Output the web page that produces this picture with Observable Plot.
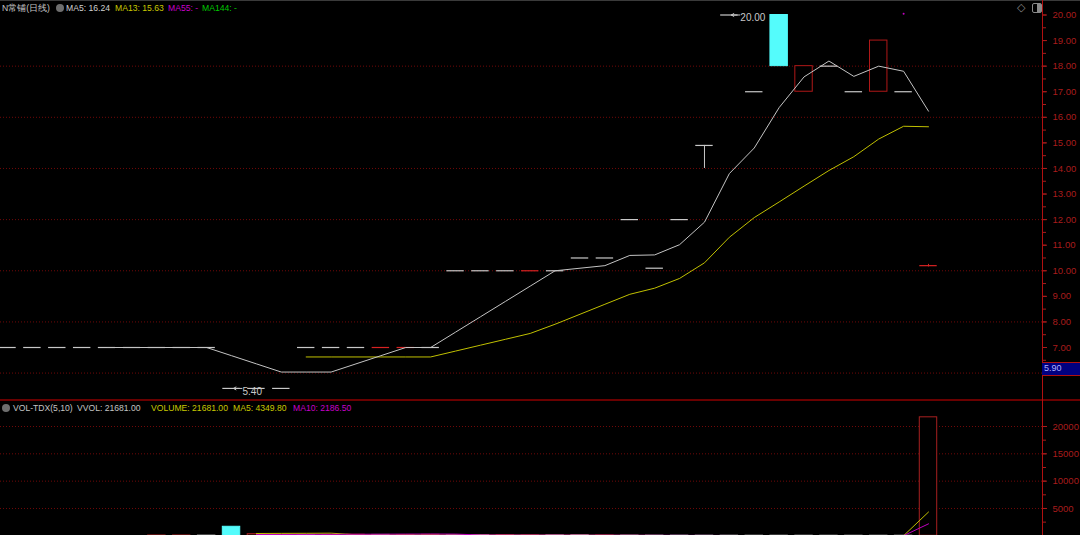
<!DOCTYPE html>
<html><head><meta charset="utf-8">
<script src="https://cdn.jsdelivr.net/npm/d3@7"></script>
<script src="https://cdn.jsdelivr.net/npm/@observablehq/plot@0.6"></script>
<style>
html,body{margin:0;padding:0;background:#000;}
body{width:1080px;height:535px;overflow:hidden;position:relative;font-family:"Liberation Sans",Arial,sans-serif;}
#main{position:absolute;left:0;top:0;}
#vol{position:absolute;left:0;top:400px;}
.h{position:absolute;font-size:8.6px;white-space:pre;line-height:10px;}
.ico{position:absolute;width:8px;height:8px;border-radius:50%;background:#6e6e6e;}
</style></head><body>
<div id="main"></div><div id="vol"></div>
<div style="position:absolute;left:0;top:0;width:1080px;height:1px;background:#3a3a3a"></div>
<div style="position:absolute;left:0;top:399px;width:1080px;height:2px;background:#6a0000"></div>
<div style="position:absolute;left:1042px;top:0;width:1px;height:535px;background:#b01010"></div>
<div class="h" style="left:2px;top:3px;color:#c4c4c4">N常铺(日线)</div>
<div class="ico" style="left:56px;top:4px"></div>
<div class="h" style="left:66px;top:3px;color:#d0d0d0">MA5: 16.24</div>
<div class="h" style="left:115px;top:3px;color:#c8c800">MA13: 15.63</div>
<div class="h" style="left:168px;top:3px;color:#c800c8">MA55: -</div>
<div class="h" style="left:202px;top:3px;color:#00c800">MA144: -</div>
<div class="ico" style="left:2px;top:404px"></div>
<div class="h" style="left:13px;top:403px;color:#c4c4c4">VOL-TDX(5,10)</div>
<div class="h" style="left:77px;top:403px;color:#c4c4c4">VVOL: 21681.00</div>
<div class="h" style="left:151px;top:403px;color:#c8c800">VOLUME: 21681.00</div>
<div class="h" style="left:233px;top:403px;color:#c8c800">MA5: 4349.80</div>
<div class="h" style="left:293px;top:403px;color:#c800c8">MA10: 2186.50</div>
<div class="h" style="left:1017px;top:2px;color:#8a8a8a;font-size:11px">◇</div>
<div style="position:absolute;left:1032px;top:3px;width:8px;height:8px;border:1px solid #8a8a8a;border-radius:2px;background:linear-gradient(90deg,#000 50%,#8a8a8a 50%)"></div>
<div style="position:absolute;left:1042px;top:362px;width:38px;height:12px;background:#000080;border-top:1px solid #b01010;border-bottom:1px solid #b01010;"></div>
<div class="h" style="left:1044px;top:363px;color:#b0b0ff;font-size:9px">5.90</div>
<script>
// ---------- data ----------
const idx   = [0,1,2,3,4,5,6,7,8,9,10,11,12,13,14,15,16,17,18,19,20,21,22,23,24,25,26,27,28,29,30,31,32,33,34,35,36,37];
const open  = [7,7,7,7,7,7,7,7,7,5.4,5.4,5.4,7,7,7,7,7,7,10,10,10,10,10,10.5,10.5,12,10.1,12,14.9,20,17,20,17,18,17,17,17,10.2];
const high  = [7,7,7,7,7,7,7,7,7,5.4,5.4,5.4,7,7,7,7,7,7,10,10,10,10,10,10.5,10.5,12,10.1,12,14.9,20,17,20,18,18,17,19,17,10.25];
const low   = [7,7,7,7,7,7,7,7,7,5.4,5.4,5.4,7,7,7,7,7,7,10,10,10,10,10,10.5,10.5,12,10.1,12,14.0,20,17,18,17,18,17,17,17,10.15];
const close = [7,7,7,7,7,7,7,7,7,5.4,5.4,5.4,7,7,7,7,7,7,10,10,10,10,10,10.5,10.5,12,10.1,12,14.9,20,17,18,18,18,17,19,17,10.2];
const tone  = ["w","w","w","w","w","w","w","w","w","w","w","w","w","w","w","r","r","w","w","w","w","r","w","w","w","w","w","w","w","w","w","c","r","w","w","r","w","r"];
const ma5   = [null,null,null,null,7,7,7,7,7,6.68,6.36,6.04,6.04,6.04,6.36,6.68,7,7,7.6,8.2,8.8,9.4,10,10.1,10.2,10.6,10.62,11.02,11.9,13.8,14.8,16.38,17.58,18.2,17.6,18,17.8,16.24];
const ma13  = [null,null,null,null,null,null,null,null,null,null,null,null,6.63,6.63,6.63,6.63,6.63,6.63,6.86,7.09,7.32,7.55,7.91,8.3,8.69,9.08,9.32,9.7,10.31,11.31,12.08,12.69,13.31,13.92,14.46,15.15,15.65,15.63];
const vol   = [0,0,0,0,0,0,60,60,40,1650,300,180,120,150,200,160,150,180,100,130,120,80,90,110,60,40,30,30,25,25,22,22,22,17,17,17,17,21681];
const volTone = ["w","w","w","w","w","w","r","r","w","c","r","r","w","r","r","w","r","r","w","w","r","r","w","w","r","w","w","w","w","w","w","w","w","w","w","w","w","r"];
const vma5  = [null,null,null,null,null,null,null,null,null,null,422,446,458,480,190,162,172,158,138,128,126,122,104,106,92,82,62,52,37,30,26,25,23,22,20,19,18,4349.8];
const vma10 = [null,null,null,null,null,null,null,null,null,null,225,241,251,264,278,292,309,319,309,157,140,133,129,120,115,105,92,77,70,60,51,45,38,33,28,24,21,2186.5];
const extremeIdx = [29, 9];
const extremeVal = [20.00, 5.40];
const priceTicks = [7,8,9,10,11,12,13,14,15,16,17,18,19,20];
const priceMinor = [6.5,7,7.5,8,8.5,9,9.5,10,10.5,11,11.5,12,12.5,13,13.5,14,14.5,15,15.5,16,16.5,17,17.5,18,18.5,19,19.5,20];
const priceGrid  = [6,8,10,12,14,16,18];
const volTicks   = [5000,10000,15000,20000];
const volMinor   = [2500,5000,7500,10000,12500,15000,17500,20000];
const dotIdx = [36], dotVal = [20.05];

// ---------- table ----------
const rows = idx.map(i => ({i, o: open[i], h: high[i], l: low[i], c: close[i], t: tone[i], v: vol[i], vt: volTone[i],
  ma5: ma5[i], ma13: ma13[i], vma5: vma5[i], vma10: vma10[i]}));
const flat = rows.filter(d => d.o === d.c);
const body = rows.filter(d => d.o !== d.c);
const wick = rows.filter(d => d.h > Math.max(d.o, d.c) || d.l < Math.min(d.o, d.c));
const ext = extremeIdx.map((i, k) => ({i, v: extremeVal[k]}));
const col = {w: "#c8c8c8", r: "#d82222", c: "#54fcfc"};
const vcol = {w: "#b0b0b0", r: "#a82020", c: "#54fcfc"};
const HW = 0.35;
const RED = "#a81c1c";
const GRID = "#700808";

const xs = {domain: [0, 37], range: [7, 928]};
const common = {width: 1080, marginLeft: 0, marginRight: 38, marginTop: 0, marginBottom: 0,
  style: {background: "transparent", fontFamily: "Liberation Sans, Arial, sans-serif", overflow: "visible"}};

const main = Plot.plot({
  ...common, height: 400,
  x: {...xs, axis: null},
  y: {domain: [7, 20], range: [347, 14.5], axis: null},
  marks: [
    Plot.ruleY(priceGrid, {stroke: GRID, strokeDasharray: "1,2"}),
    Plot.axisY({anchor: "right", ticks: priceMinor, tickSize: 3, tickFormat: () => "", color: RED}),
    Plot.axisY({anchor: "right", ticks: priceTicks, tickSize: 4, tickPadding: 6, tickFormat: d => d.toFixed(2), color: RED, fontSize: 9.5, label: null}),
    Plot.line(rows.filter(d => d.ma13 != null), {x: "i", y: "ma13", stroke: "#c0c000", strokeWidth: 1}),
    Plot.ruleX(wick, {x: "i", y1: "l", y2: "h", stroke: d => col[d.t], strokeWidth: 1}),
    Plot.ruleY(flat, {y: "c", x1: d => d.i - HW, x2: d => d.i + HW, stroke: d => col[d.t], strokeWidth: 1.2}),
    Plot.rect(body, {x1: d => d.i - HW, x2: d => d.i + HW, y1: "o", y2: "c",
      fill: d => d.t === "c" ? col.c : "#000", stroke: d => d.t === "c" ? col.c : "#b01818", strokeWidth: 1}),
    Plot.line(rows.filter(d => d.ma5 != null), {x: "i", y: "ma5", stroke: "#c4c4c4", strokeWidth: 1}),
    Plot.arrow(ext, {x1: d => d.i + 0.42, x2: d => d.i + 0.08, y1: "v", y2: "v", stroke: "#c8c8c8", strokeWidth: 1, headLength: 5}),
    Plot.text(ext, {x: "i", y: "v", text: d => d.v.toFixed(2), dx: 11, dy: 3, textAnchor: "start", fill: "#c8c8c8", fontSize: 10}),
    Plot.dot(dotIdx.map((i, k) => ({i, v: dotVal[k]})), {x: "i", y: "v", r: 1, fill: "#c000c0", stroke: null})
  ]
});
document.getElementById("main").appendChild(main);

const volp = Plot.plot({
  ...common, height: 135,
  x: {...xs, axis: null},
  y: {domain: [0, 20000], range: [135.3, 26], axis: null},
  marks: [
    Plot.ruleY(volTicks, {stroke: GRID, strokeDasharray: "1,2"}),
    Plot.axisY({anchor: "right", ticks: volMinor, tickSize: 3, tickFormat: () => "", color: RED}),
    Plot.axisY({anchor: "right", ticks: volTicks, tickSize: 4, tickPadding: 6, tickFormat: d => String(d), color: RED, fontSize: 9.5, label: null}),
    Plot.rect(rows.filter(d => d.v > 0), {x1: d => d.i - HW, x2: d => d.i + HW, y1: 0, y2: "v",
      fill: d => d.vt === "c" ? vcol.c : "#000", stroke: d => vcol[d.vt], strokeWidth: 1}),
    Plot.line(rows.filter(d => d.vma5 != null), {x: "i", y: "vma5", stroke: "#c0c000", strokeWidth: 1}),
    Plot.line(rows.filter(d => d.vma10 != null), {x: "i", y: "vma10", stroke: "#c000c0", strokeWidth: 1})
  ]
});
document.getElementById("vol").appendChild(volp);
</script>
</body></html>
